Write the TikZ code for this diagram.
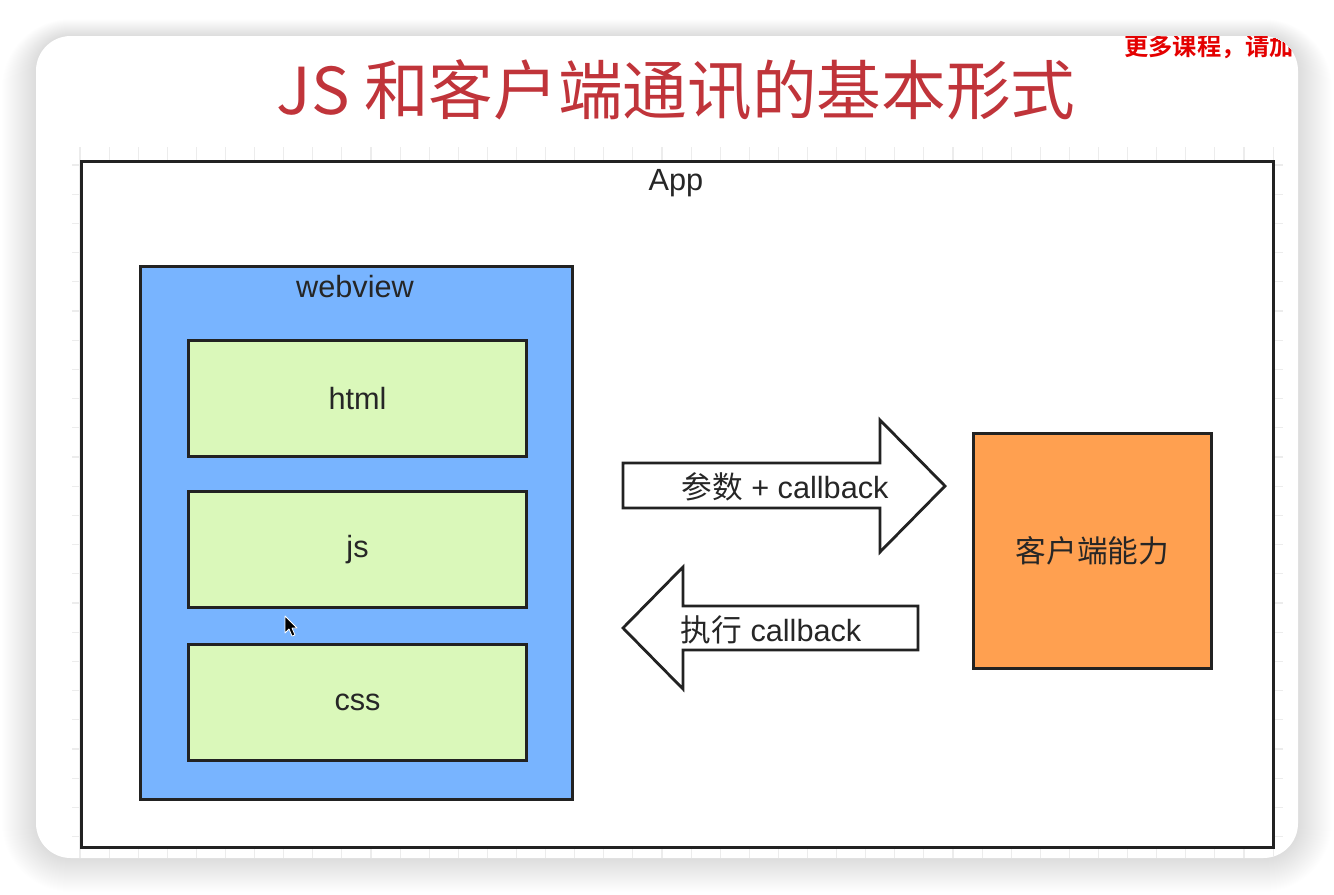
\documentclass[tikz,border=0pt]{standalone}
\usepackage{fontspec}
\setmainfont{Liberation Sans}
\newfontfamily\cjk{Noto Sans CJK SC}
\newfontfamily\cjkbold{Noto Sans CJK SC Bold}
\definecolor{boxline}{RGB}{34,34,34}
\definecolor{webblue}{RGB}{120,180,255}
\definecolor{htmlgreen}{RGB}{218,248,186}
\definecolor{nativeorange}{RGB}{255,160,80}
\definecolor{titlered}{RGB}{192,52,58}
\definecolor{adred}{RGB}{228,0,0}
\definecolor{gridgray}{RGB}{236,236,236}
\tikzset{
  plainbox/.style={draw=boxline, line width=2.3pt, rectangle, inner sep=0pt},
  blockarrow/.style={draw=boxline, line width=2.1pt, fill=white, line join=miter},
  lab/.style={font=\fontsize{23}{27}\selectfont, text=black!85, inner sep=0pt},
}
\begin{document}
\begin{tikzpicture}[x=0.75pt, y=-0.75pt]
\useasboundingbox (0,0) rectangle (1334,894);
\fill[white] (0,0) rectangle (1334,894);
% soft shadow of the card
\foreach \i in {1,...,34}{
  \fill[black, opacity=0.0045, rounded corners={(35+\i)*0.75pt}] (36-\i,36-0.5*\i) rectangle (1298+\i,858+\i);
}
% card
\path[fill=white, rounded corners=26pt] (36,36) rectangle (1298,858);
\begin{scope}
  \clip[rounded corners=26pt] (36,36) rectangle (1298,858);
  % faint canvas grid
  \foreach \k in {0,...,41}{
    \draw[gridgray, line width=0.8pt] (80+29.1*\k,147) -- (80+29.1*\k,858);
  }
  \foreach \k in {0,...,23}{
    \draw[gridgray, line width=0.8pt] (72,165+29.2*\k) -- (1283,165+29.2*\k);
  }
  \node[anchor=west, text=adred, font=\cjkbold\fontsize{18.2}{21}\selectfont, inner sep=0pt] (ad) at (1124,47) {更多课程，请加};
\end{scope}
% title
\node[text=titlered, font=\cjk\fontsize{48.5}{56}\selectfont, inner sep=0pt] (title) at (676,90) {JS 和客户端通讯的基本形式};
% App
\node[plainbox, fill=white, minimum width=1192*0.75pt, minimum height=686*0.75pt, anchor=north west] (app) at (80,160) {};
\node[lab] (applab) at (676,183) {App};
% webview
\node[plainbox, fill=webblue, minimum width=432*0.75pt, minimum height=533*0.75pt, anchor=north west] (webview) at (139,265) {};
\node[lab] (weblab) at (355,287) {webview};
\node[plainbox, fill=htmlgreen, minimum width=338*0.75pt, minimum height=116*0.75pt, anchor=north west] (html) at (187,339) {};
\node[lab] at (html.center) {html};
\node[plainbox, fill=htmlgreen, minimum width=338*0.75pt, minimum height=116*0.75pt, anchor=north west] (js) at (187,490) {};
\node[lab] at (js.center) {js};
\node[plainbox, fill=htmlgreen, minimum width=338*0.75pt, minimum height=116*0.75pt, anchor=north west] (css) at (187,643) {};
\node[lab] at (css.center) {css};
% native capability
\node[plainbox, fill=nativeorange, minimum width=238*0.75pt, minimum height=235*0.75pt, anchor=north west] (native) at (972,432) {};
\node[lab] at (native.center) {\cjk 客户端能力};
% block arrows
\draw[blockarrow] (623,463) -- (880,463) -- (880,420) -- (945,486) -- (880,552) -- (880,508) -- (623,508) -- cycle;
\node[lab] (calllab) at (785,487) {{\cjk 参数} + callback};
\draw[blockarrow] (918,606) -- (683,606) -- (683,567) -- (623,628) -- (683,689) -- (683,650) -- (918,650) -- cycle;
\node[lab] (execlab) at (771,630) {{\cjk 执行} callback};
% mouse cursor
\draw[fill=black, draw=white, line width=0.6pt, line join=round] (285,616) -- (285,633) -- (289,629) -- (292,636) -- (295,635) -- (292,628) -- (297,628) -- cycle;
\end{tikzpicture}
\end{document}
